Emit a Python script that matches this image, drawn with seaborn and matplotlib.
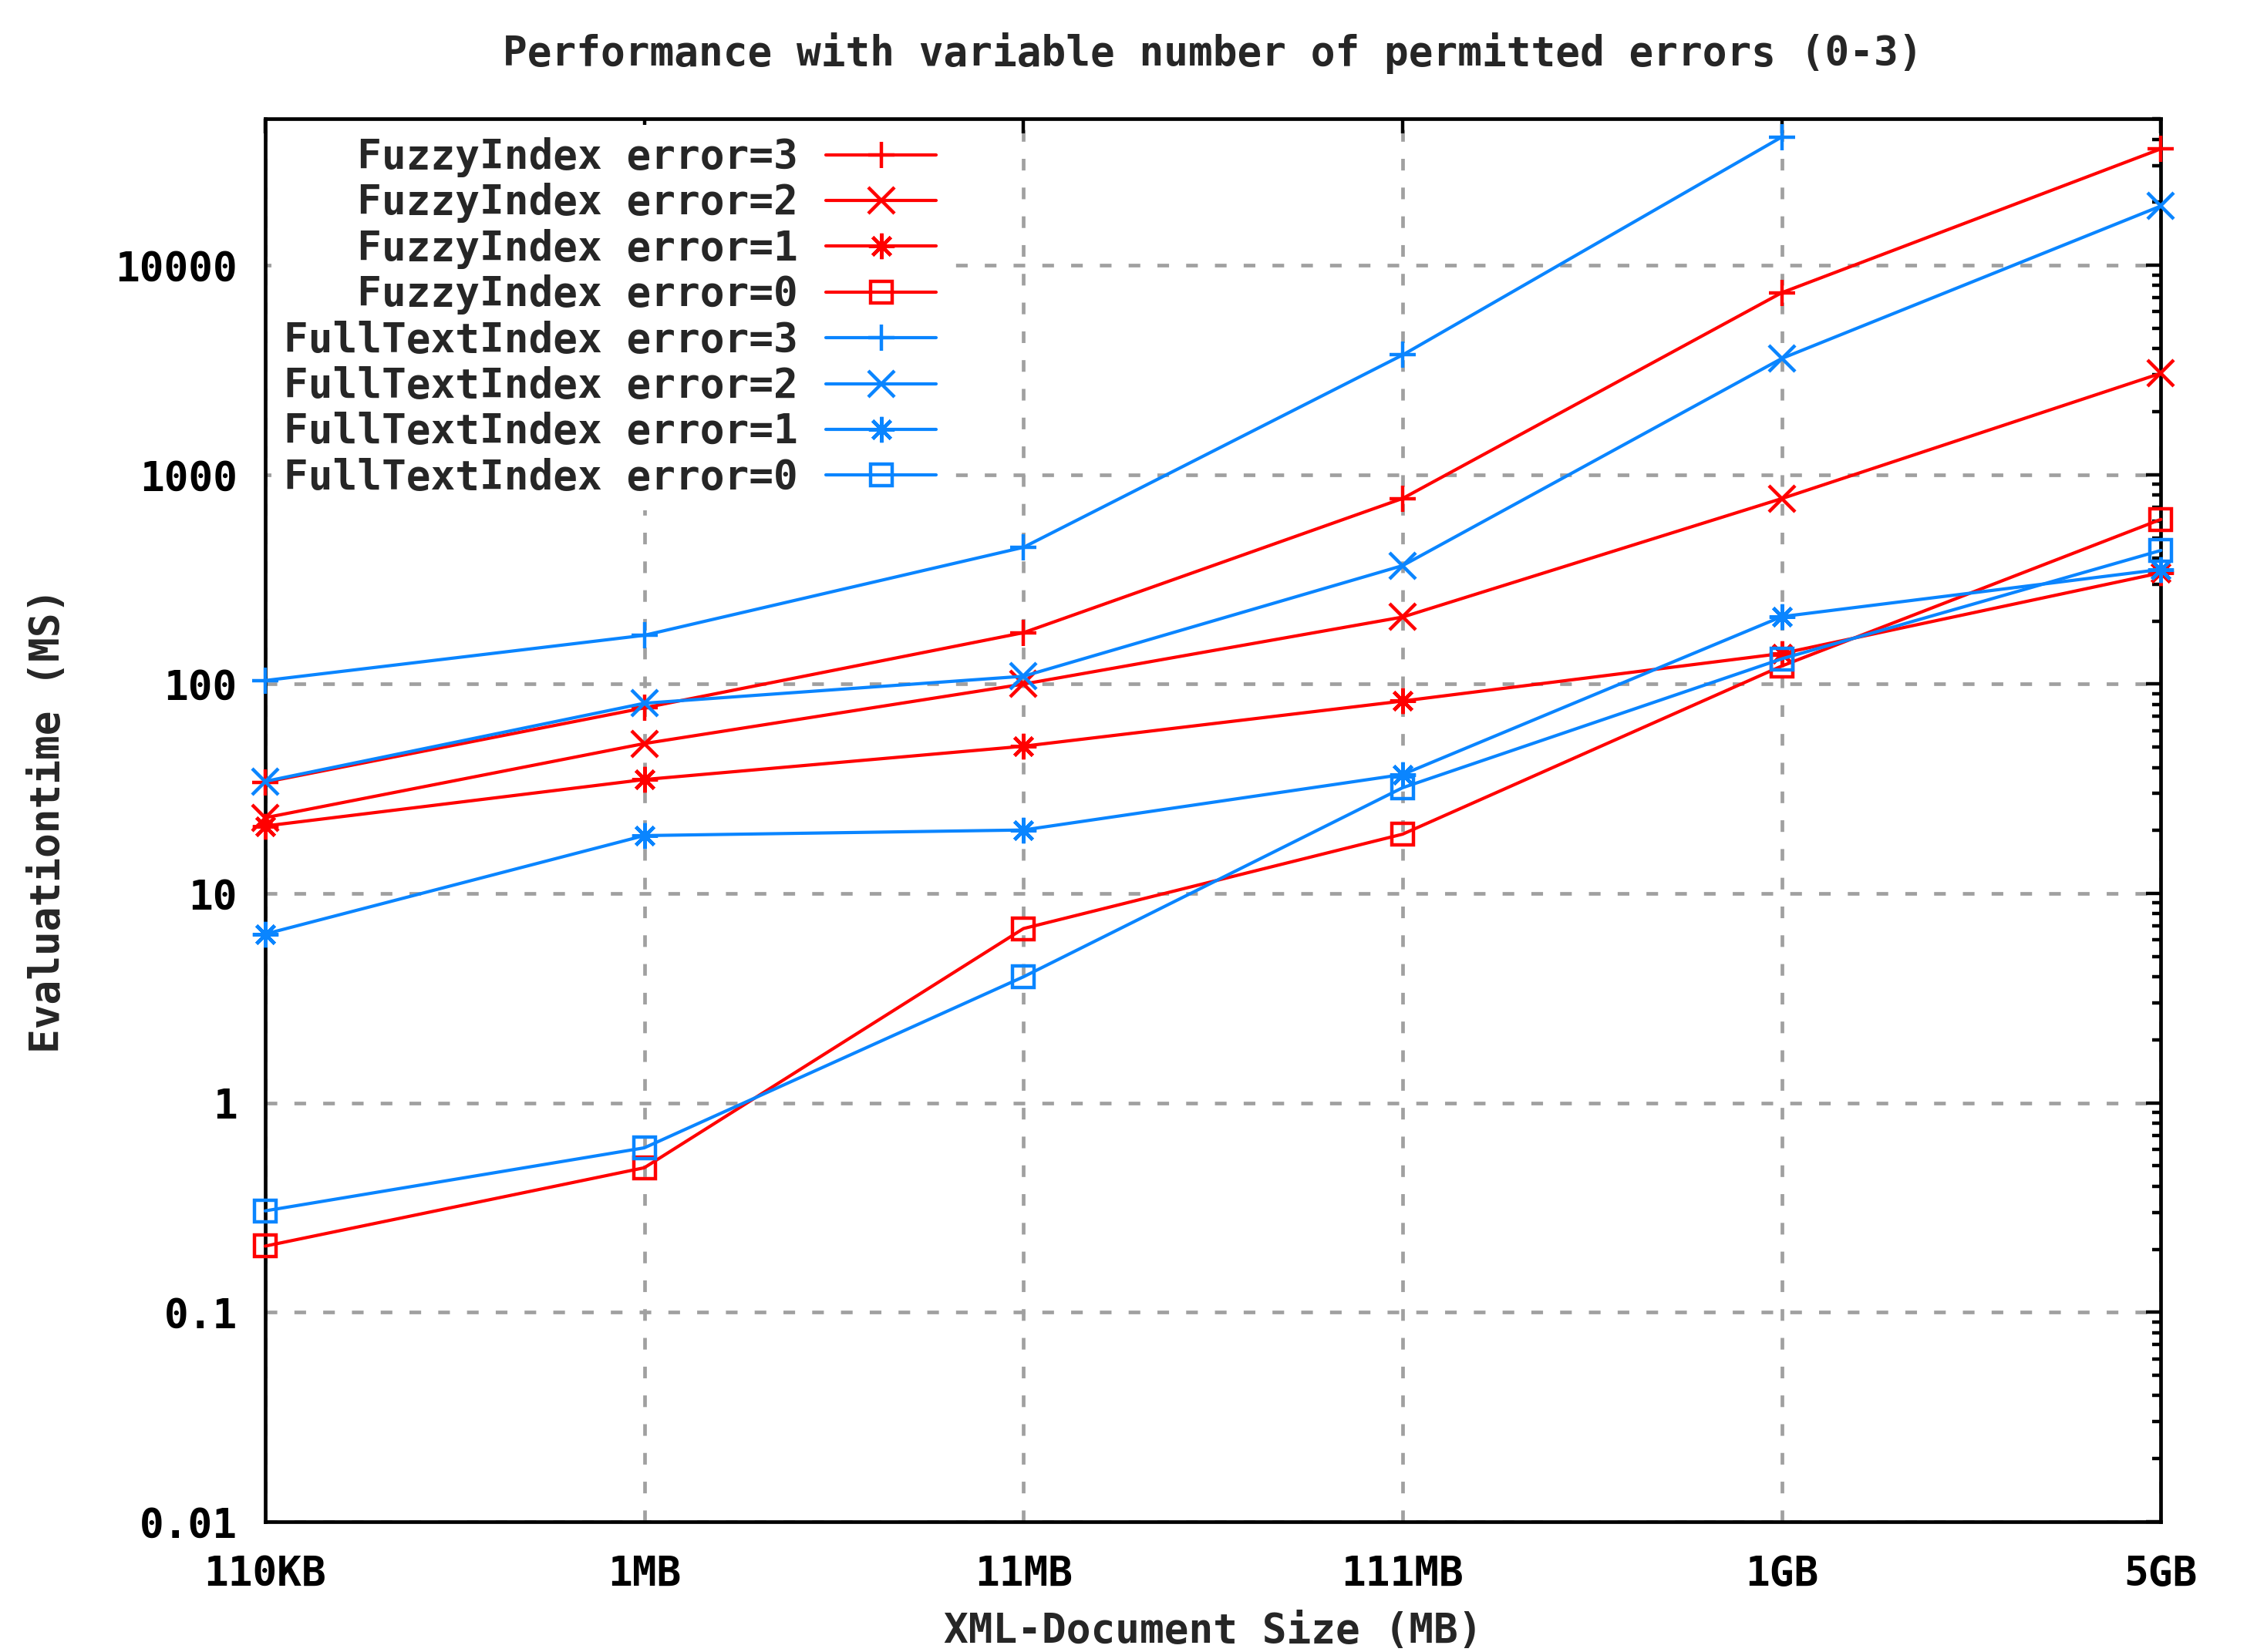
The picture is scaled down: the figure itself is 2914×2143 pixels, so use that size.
import matplotlib
matplotlib.use("Agg")
import matplotlib.pyplot as plt
import matplotlib.ticker as mticker
import seaborn as sns
import numpy as np

#---data
sizes = ['110KB', '1MB', '11MB', '111MB', '1GB', '5GB']

fuzzy_e3 = [34, 77, 176, 770, 7400, 36000]
fuzzy_e2 = [23, 52, 100, 209, 769, 3050]
fuzzy_e1 = [21, 35, 50.5, 83, 140, 340]
fuzzy_e0 = [0.207, 0.49, 6.8, 19.2, 122, 612]
fulltext_e3 = [104, 171, 450, 3730, 41000]          # no 5GB run
fulltext_e2 = [34.3, 81, 109, 368, 3590, 19200]
fulltext_e1 = [6.4, 18.9, 20.1, 37, 210, 353]
fulltext_e0 = [0.305, 0.61, 4.0, 32, 132, 435]

ytick_vals = [0.01, 0.1, 1, 10, 100, 1000, 10000]
ytick_labels = ['0.01', '0.1', '1', '10', '100', '1000', '10000']

#---style
sns.set_style('white')
plt.rcParams['font.family'] = ['DejaVu Sans Mono', 'DejaVu Sans']
plt.rcParams['font.weight'] = 'bold'
fs = 19

red = '#ff0000'
blue = '#0a85ff'
star = (8, 2, 0)   # gnuplot-style asterisk (+ and x together)

series = [
    ('FuzzyIndex error=3', fuzzy_e3, red, '+'),
    ('FuzzyIndex error=2', fuzzy_e2, red, 'x'),
    ('FuzzyIndex error=1', fuzzy_e1, red, star),
    ('FuzzyIndex error=0', fuzzy_e0, red, 's'),
    ('FullTextIndex error=3', fulltext_e3, blue, '+'),
    ('FullTextIndex error=2', fulltext_e2, blue, 'x'),
    ('FullTextIndex error=1', fulltext_e1, blue, star),
    ('FullTextIndex error=0', fulltext_e0, blue, 's'),
]
width = max(len(s[0]) for s in series)

fig, ax = plt.subplots(figsize=(14.57, 10.715), dpi=200)
fig.subplots_adjust(left=0.118, right=0.9617, top=0.928, bottom=0.0789)

for name, vals, col, mk in series:
    xs = np.arange(len(vals))
    ms = 10 if mk == 's' else 12
    sns.lineplot(x=xs, y=vals, ax=ax, color=col, lw=1.5, marker=mk, markersize=ms,
                 markeredgecolor=col, markerfacecolor='none', markeredgewidth=1.6,
                 label=name.rjust(width), clip_on=False, zorder=3, legend=False)

ax.set_yscale('log')
ax.set_ylim(0.01, 50000)
ax.set_xlim(0, len(sizes) - 1)

ax.set_xticks(range(len(sizes)))
ax.set_xticklabels(sizes)
ax.yaxis.set_major_locator(mticker.FixedLocator(ytick_vals))
ax.yaxis.set_major_formatter(mticker.FixedFormatter(ytick_labels))
ax.yaxis.set_minor_locator(mticker.LogLocator(base=10, subs=np.arange(2, 10), numticks=20))
ax.yaxis.set_minor_formatter(mticker.NullFormatter())

ax.tick_params(which='both', direction='in', top=True, right=True, colors='black',
               labelsize=fs, width=1.6)
ax.tick_params(which='major', length=7)
ax.tick_params(which='minor', length=4)
ax.tick_params(axis='x', pad=15)
ax.tick_params(axis='y', pad=13)

ax.grid(True, which='major', color='#a0a0a0', lw=1.7, linestyle=(0, (3.2, 4.7)))
ax.set_axisbelow(True)
for sp in ax.spines.values():
    sp.set_visible(True)
    sp.set_color('black')
    sp.set_linewidth(1.7)

ax.set_title('Performance with variable number of permitted errors (0-3)',
             fontsize=fs, fontweight='bold', pad=25)
ax.set_xlabel('XML-Document Size (MB)', fontsize=fs, fontweight='bold', labelpad=8)
ax.set_ylabel('Evaluationtime (MS)', fontsize=fs, fontweight='bold', labelpad=22)

leg = ax.legend(loc='upper left', bbox_to_anchor=(0.0, 1.0), markerfirst=False,
                fontsize=fs, frameon=True, fancybox=False, framealpha=1,
                edgecolor='none', facecolor='white', handlelength=2.7,
                handletextpad=0.7, labelspacing=0.14, borderpad=0.3,
                borderaxespad=0.15)
leg.set_zorder(5)

plt.savefig('out.png', dpi=200)
